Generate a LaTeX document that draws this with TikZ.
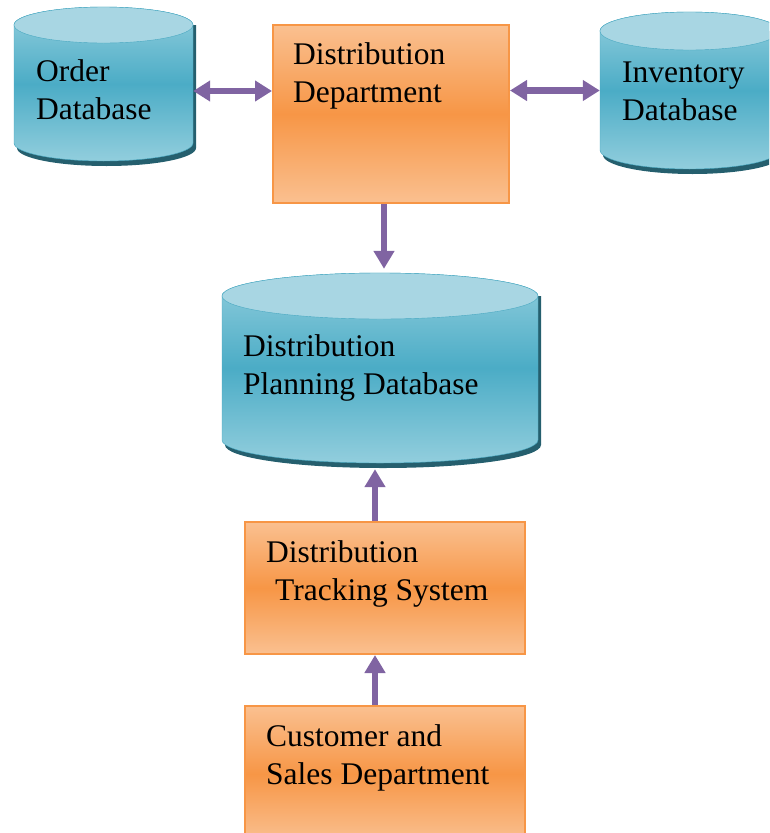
\documentclass[tikz,border=0pt]{standalone}
\usepackage{fontspec}
\setmainfont{Liberation Serif}
\usetikzlibrary{arrows.meta}
\definecolor{dbtop}{HTML}{A8D6E3}
\definecolor{dblight}{HTML}{92CEDD}
\definecolor{dbmid}{HTML}{4BACC6}
\definecolor{dbedge}{HTML}{48A8C1}
\definecolor{dbshadow}{HTML}{255F6E}
\definecolor{boxlight}{HTML}{FAC090}
\definecolor{boxmid}{HTML}{F79646}
\definecolor{boxedge}{HTML}{F79646}
\definecolor{flowpurple}{HTML}{8064A2}
\tikzset{line width=1.5pt}
% database cylinder: centre x, top y, bottom y, x radius, y radius
\newcommand{\dbcyl}[5]{%
  \fill[dbshadow] ({#1-#4+3},#2) -- ({#1-#4+3},{#3+5})
    arc[start angle=180,end angle=360,x radius=#4pt,y radius=#5pt]
    -- ({#1+#4+3},#2) -- cycle;
  \shadedraw[draw=dbedge,top color=dblight,bottom color=dblight,middle color=dbmid]
    ({#1-#4},#2) -- ({#1-#4},#3)
    arc[start angle=180,end angle=360,x radius=#4pt,y radius=#5pt]
    -- ({#1+#4},#2)
    arc[start angle=0,end angle=180,x radius=#4pt,y radius=#5pt] -- cycle;
  \filldraw[fill=dbtop,draw=dbedge] (#1,#2) ellipse[x radius=#4pt,y radius=#5pt];}

\begin{document}
\begin{tikzpicture}[x=1pt,y=-1pt,
    dbnode/.style={inner sep=0pt},
    procbox/.style={draw=boxedge,line width=2pt,inner sep=0pt,
      top color=boxlight,bottom color=boxlight,middle color=boxmid},
    txt/.style={inner sep=0pt,align=left,anchor=north west,
      font=\fontsize{31.5}{38}\selectfont},
    flow/.style={draw=flowpurple,line width=6.5pt,
      -{Triangle[width=20pt,length=18pt]}},
    flowboth/.style={flow,{Triangle[width=20pt,length=17pt]}-{Triangle[width=20pt,length=17pt]}}]
  \useasboundingbox (0,0) rectangle (769,833);
  \clip (0,0) rectangle (769,833);

  % Order database
  \dbcyl{103.5}{25}{143}{89.5}{18}
  \node[dbnode,minimum width=179pt,minimum height=154pt] (orderdb) at (103.5,84) {};
  \node[txt] (ordertxt) at (36,59.5) {Order\\Database};

  % Inventory database
  \dbcyl{689.5}{31}{150}{89.5}{19}
  \node[dbnode,minimum width=179pt,minimum height=157pt] (invdb) at (689.5,90.5) {};
  \node[txt] (invtxt) at (622,62) {Inventory\\Database};

  % Distribution department
  \node[procbox,minimum width=236pt,minimum height=178pt] (dept) at (391,114) {};
  \node[txt] (depttxt) at (293,42.5) {Distribution\\Department};

  % Distribution planning database
  \dbcyl{380}{296}{440}{158}{23}
  \node[dbnode,minimum width=316pt,minimum height=190pt] (plandb) at (380,368) {};
  \node[txt] (plantxt) at (243,334.5) {Distribution\\Planning Database};

  % Tracking system
  \node[procbox,minimum width=280pt,minimum height=132pt] (track) at (385,588) {};
  \node[txt] (tracktxt) at (266,540.5) {Distribution\\\hspace*{9pt}Tracking System};

  % Customer and sales
  \node[procbox,minimum width=280pt,minimum height=136pt] (cust) at (385,774) {};
  \node[txt] (custtxt) at (266,724.5) {Customer and\\Sales Department};

  % flows
  \draw[flowboth] ([yshift=-7pt]orderdb.east) -- ([yshift=-7pt]orderdb.east -| dept.west);
  \draw[flowboth] (invdb.west -| dept.east) -- (invdb.west);
  \draw[flow,shorten >=4pt] ([xshift=-7pt]dept.south) -- ([xshift=-7pt]dept.south |- plandb.north);
  \draw[flow,shorten >=6pt] ([xshift=-10pt]track.north) -- ([xshift=-10pt]track.north |- plandb.south);
  \draw[flow] ([xshift=-10pt]cust.north) -- ([xshift=-10pt]track.south);
\end{tikzpicture}
\end{document}
